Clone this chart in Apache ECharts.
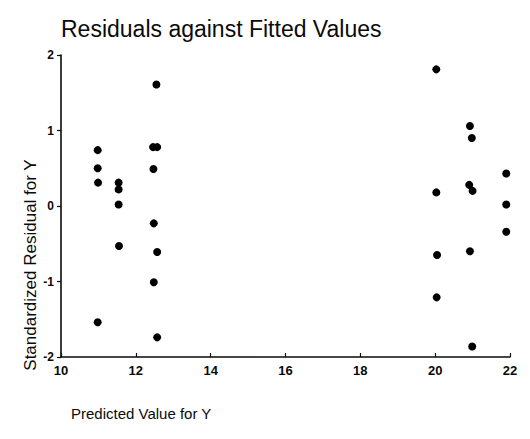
<!DOCTYPE html>
<html>
<head>
<meta charset="utf-8">
<script src="https://cdn.jsdelivr.net/npm/echarts@6/dist/echarts.min.js"></script>
<style>
  html, body { margin: 0; padding: 0; background: #ffffff; }
  #chart { width: 530px; height: 439px; }
</style>
</head>
<body>
<div id="chart"></div>
<script>
// Chart texts
const chartTitle = 'Residuals against Fitted Values';
const xAxisTitle = 'Predicted Value for Y';
const yAxisTitle = 'Standardized Residual for Y';

// Axis ranges / ticks
const xTicks = [10, 12, 14, 16, 18, 20, 22];
const yTicks = [-2, -1, 0, 1, 2];

// Data: predicted (fitted) values and standardized residuals
const predicted = [
  10.98, 10.98, 10.99, 10.98,
  11.54, 11.54, 11.54, 11.55,
  12.55, 12.46, 12.57, 12.47, 12.48, 12.57, 12.48, 12.57,
  20.03, 20.03, 20.05, 20.04,
  20.93, 20.98, 20.91, 21.00, 20.93, 20.99,
  21.90, 21.90, 21.90
];
const residuals = [
  0.74, 0.50, 0.31, -1.54,
  0.31, 0.22, 0.02, -0.53,
  1.61, 0.78, 0.78, 0.49, -0.23, -0.61, -1.01, -1.74,
  1.81, 0.18, -0.65, -1.21,
  1.06, 0.90, 0.28, 0.20, -0.60, -1.86,
  0.43, 0.02, -0.34
];

const points = predicted.map((x, i) => [x, residuals[i]]);
const FONT = '"Liberation Sans", Arial, Helvetica, sans-serif';
const INK = '#0a0a0a';

const chart = echarts.init(document.getElementById('chart'), null, { renderer: 'svg' });
chart.setOption({
  backgroundColor: '#ffffff',
  animation: false,
  title: [
    {
      text: chartTitle,
      left: 56, top: 12,
      textStyle: { fontFamily: FONT, fontSize: 23, fontWeight: 'normal', color: INK }
    },
    {
      text: xAxisTitle,
      left: 66, top: 401,
      textStyle: { fontFamily: FONT, fontSize: 15, fontWeight: 'normal', color: INK }
    }
  ],
  graphic: [
    {
      type: 'text',
      x: 30, y: 265,
      rotation: Math.PI / 2,
      style: {
        text: yAxisTitle,
        font: 'normal 17px ' + FONT,
        fill: INK,
        align: 'center',
        verticalAlign: 'middle'
      }
    }
  ],
  grid: { left: 61, right: 20, top: 55, bottom: 82, containLabel: false },
  xAxis: {
    type: 'value',
    min: xTicks[0], max: xTicks[xTicks.length - 1], interval: 2,
    axisLine: { show: true, onZero: false, lineStyle: { color: INK, width: 1.6 } },
    axisTick: { show: true, inside: true, length: 4, lineStyle: { color: INK, width: 1.2 } },
    axisLabel: { fontFamily: FONT, fontSize: 13, fontWeight: 'bold', color: INK, margin: 7 },
    splitLine: { show: false }
  },
  yAxis: {
    type: 'value',
    min: yTicks[0], max: yTicks[yTicks.length - 1], interval: 1,
    axisLine: { show: true, onZero: false, lineStyle: { color: INK, width: 1.6 } },
    axisTick: { show: true, inside: false, length: 4, lineStyle: { color: INK, width: 1.2 } },
    axisLabel: { fontFamily: FONT, fontSize: 12, fontWeight: 'bold', color: INK, margin: 7 },
    splitLine: { show: false }
  },
  series: [
    {
      type: 'scatter',
      data: points,
      symbol: 'circle',
      symbolSize: 8,
      clip: false,
      itemStyle: { color: '#000000', opacity: 1 }
    }
  ]
});
</script>
</body>
</html>
